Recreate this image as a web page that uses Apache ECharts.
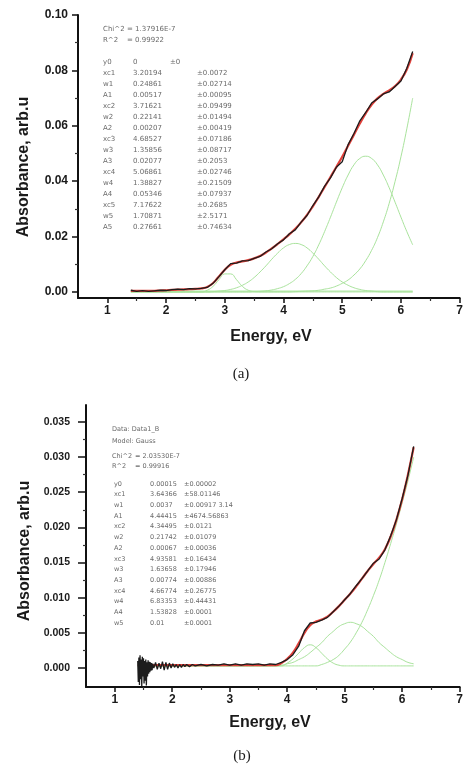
<!DOCTYPE html>
<html>
<head>
<meta charset="utf-8">
<script src="https://cdn.jsdelivr.net/npm/echarts@6/dist/echarts.min.js"></script>
<style>
  html, body { margin: 0; padding: 0; background: #fff; }
  #main { width: 466px; height: 768px; }
</style>
</head>
<body>
<div id="main"></div>
<script>
// shared energy grid for fits and peak components (eV)
const energyFit = [1.4, 1.5, 1.6, 1.7, 1.8, 1.9, 2.0, 2.1, 2.2, 2.3, 2.4, 2.5, 2.6, 2.7, 2.8, 2.9, 3.0,
  3.1, 3.2, 3.3, 3.4, 3.5, 3.6, 3.7, 3.8, 3.9, 4.0, 4.1, 4.2, 4.3, 4.4, 4.5, 4.6, 4.7, 4.8, 4.9,
  5.0, 5.1, 5.2, 5.3, 5.4, 5.5, 5.6, 5.7, 5.8, 5.9, 6.0, 6.1, 6.2];

// ---- panel (a) ----
const absA = [0.0006, 0.0002, 0.0005, 0.0002, 0.0004, 0.0006, 0.0005, 0.0008, 0.0010, 0.0008, 0.0012,
  0.0011, 0.0013, 0.0016, 0.0031, 0.0055, 0.0080, 0.0102, 0.0104, 0.0112, 0.0113, 0.0121, 0.0128,
  0.0144, 0.0156, 0.0174, 0.0188, 0.0210, 0.0224, 0.0252, 0.0276, 0.0312, 0.0343, 0.0382, 0.0412,
  0.0450, 0.0470, 0.0532, 0.0572, 0.0618, 0.0648, 0.0682, 0.0697, 0.0715, 0.0722, 0.0742, 0.0762,
  0.0808, 0.0868];
const fitA = [0.0004, 0.0004, 0.0004, 0.0004, 0.0004, 0.0005, 0.0006, 0.0007, 0.0008, 0.0009, 0.0010,
  0.0011, 0.0013, 0.0018, 0.0032, 0.0056, 0.0080, 0.0098, 0.0106, 0.0110, 0.0115, 0.0121, 0.0130,
  0.0142, 0.0157, 0.0173, 0.0190, 0.0208, 0.0228, 0.0251, 0.0278, 0.0309, 0.0343, 0.0379, 0.0415,
  0.0451, 0.0488, 0.0528, 0.0568, 0.0608, 0.0645, 0.0676, 0.0699, 0.0715, 0.0728, 0.0743, 0.0767,
  0.0803, 0.0862];
const peak1A = [0, 0, 0, 0, 0, 0, 0, 0, 0, 0, 0, 0, 0,
  0.0006, 0.0020, 0.0044, 0.0065, 0.0065, 0.0044, 0.0020, 0.0006, 0.0001,
  0, 0, 0, 0, 0, 0, 0, 0, 0, 0, 0, 0, 0, 0, 0, 0, 0, 0, 0, 0, 0, 0, 0, 0, 0, 0, 0];
const peak2A = [0, 0, 0, 0, 0, 0, 0, 0, 0, 0, 0, 0, 0, 0,
  0.0001, 0.0003, 0.0005, 0.0009, 0.0015, 0.0024, 0.0036, 0.0052, 0.0072, 0.0094, 0.0118, 0.0140,
  0.0159, 0.0171, 0.0175, 0.0171, 0.0159, 0.0140, 0.0118, 0.0094, 0.0072, 0.0052, 0.0036, 0.0024,
  0.0015, 0.0009, 0.0005, 0.0003, 0.0001, 0, 0, 0, 0, 0, 0];
const peak3A = [0, 0, 0, 0, 0, 0, 0, 0, 0, 0, 0, 0, 0, 0, 0, 0, 0, 0, 0, 0, 0,
  0.0001, 0.0002, 0.0004, 0.0007, 0.0012, 0.0019, 0.0030, 0.0045, 0.0066, 0.0094, 0.0128, 0.0170,
  0.0218, 0.0270, 0.0324, 0.0376, 0.0422, 0.0459, 0.0482, 0.0490, 0.0482, 0.0459, 0.0422, 0.0376,
  0.0324, 0.0270, 0.0218, 0.0170];
const peak4A = [0, 0, 0, 0, 0, 0, 0, 0, 0, 0, 0, 0, 0, 0, 0, 0, 0, 0, 0, 0, 0, 0, 0, 0, 0, 0, 0, 0,
  0.0001, 0.0002, 0.0003, 0.0004, 0.0006, 0.0010, 0.0014, 0.0021, 0.0031, 0.0043, 0.0061, 0.0083,
  0.0113, 0.0150, 0.0196, 0.0253, 0.0320, 0.0399, 0.0488, 0.0589, 0.0700];
const baseEnergy = [1.4, 6.2];
const baseA = [0.0003, 0.0003];

// ---- panel (b) ----
const energyB = [1.40, 1.41, 1.42, 1.43, 1.44, 1.45, 1.46, 1.47, 1.48, 1.49, 1.50, 1.51, 1.52, 1.53,
  1.54, 1.55, 1.56, 1.57, 1.58, 1.59, 1.60, 1.61, 1.62, 1.63, 1.64, 1.65, 1.66,
  1.68, 1.71, 1.74, 1.77, 1.80, 1.83, 1.86, 1.89, 1.92, 1.95, 1.98, 2.01, 2.04, 2.07, 2.10, 2.13,
  2.16, 2.19, 2.22, 2.25, 2.30, 2.35, 2.40,
  2.5, 2.6, 2.7, 2.8, 2.9, 3.0, 3.1, 3.2, 3.3, 3.4, 3.5, 3.6, 3.7, 3.8, 3.9, 4.0, 4.1, 4.2, 4.3,
  4.4, 4.5, 4.6, 4.7, 4.8, 4.9, 5.0, 5.1, 5.2, 5.3, 5.4, 5.5, 5.6, 5.7, 5.8, 5.9, 6.0, 6.1, 6.2];
const absB = [0.0010, -0.0020, 0.0015, -0.0024, 0.0018, -0.0016, 0.0012, -0.0026, 0.0016, -0.0012,
  0.0014, -0.0022, 0.0010, -0.0018, 0.0012, -0.0025, 0.0008, -0.0012, 0.0011, -0.0008, 0.0009,
  -0.0006, 0.0008, -0.0004, 0.0007, -0.0003, 0.0006,
  0.0000, 0.0008, -0.0002, 0.0007, -0.0001, 0.0009, -0.0003, 0.0008, -0.0002, 0.0007, 0.0000,
  0.0006, 0.0001, 0.0005, 0.0000, 0.0005, 0.0001, 0.0005, 0.0002, 0.0005, 0.0002, 0.0005, 0.0003,
  0.0005, 0.0003, 0.0005, 0.0004, 0.0006, 0.0004, 0.0006, 0.0004, 0.0006, 0.0005, 0.0006, 0.0004,
  0.0006, 0.0005, 0.0008, 0.0012, 0.0019, 0.0031, 0.0053, 0.0064, 0.0065, 0.0068, 0.0072, 0.0080,
  0.0088, 0.0097, 0.0106, 0.0117, 0.0127, 0.0138, 0.0149, 0.0155, 0.0168, 0.0188, 0.0211, 0.0241,
  0.0274, 0.0315];
const fitB = [0.0004, 0.0004, 0.0004, 0.0004, 0.0004, 0.0004, 0.0004, 0.0004, 0.0004, 0.0004, 0.0004,
  0.0004, 0.0004, 0.0004, 0.0004, 0.0004, 0.0004, 0.0004, 0.0004, 0.0004, 0.0004, 0.0004, 0.0004,
  0.0004, 0.0004, 0.0007, 0.0013, 0.0022, 0.0035, 0.0050, 0.0061, 0.0066, 0.0069, 0.0073, 0.0080,
  0.0088, 0.0097, 0.0106, 0.0116, 0.0127, 0.0138, 0.0148, 0.0157, 0.0169, 0.0187, 0.0211, 0.0240,
  0.0275, 0.0314];
const peak1B = [0.0003, 0.0003, 0.0003, 0.0003, 0.0003, 0.0003, 0.0003, 0.0003, 0.0003, 0.0003,
  0.0003, 0.0003, 0.0003, 0.0003, 0.0003, 0.0003, 0.0003, 0.0003, 0.0003, 0.0003, 0.0003, 0.0003,
  0.0003, 0.0003, 0.0003, 0.0003,
  0.0007, 0.0013, 0.0021, 0.0029, 0.0033, 0.0029, 0.0021, 0.0013, 0.0007, 0.0004,
  0.0003, 0.0003, 0.0003, 0.0003, 0.0003, 0.0003, 0.0003, 0.0003, 0.0003, 0.0003, 0.0003, 0.0003, 0.0003];
const peak2B = [0.0003, 0.0003, 0.0003, 0.0003, 0.0003, 0.0003, 0.0003, 0.0003, 0.0003, 0.0003,
  0.0003, 0.0003, 0.0003, 0.0003, 0.0003, 0.0003, 0.0003, 0.0003, 0.0003, 0.0003, 0.0003, 0.0003,
  0.0003, 0.0003, 0.0003,
  0.0004, 0.0006, 0.0008, 0.0012, 0.0016, 0.0022, 0.0029, 0.0036, 0.0045, 0.0052, 0.0059, 0.0063,
  0.0065, 0.0063, 0.0059, 0.0052, 0.0045, 0.0036, 0.0029, 0.0022, 0.0016, 0.0012, 0.0008, 0.0006];
const peak3B = [0.0003, 0.0003, 0.0003, 0.0003, 0.0003, 0.0003, 0.0003, 0.0003, 0.0003, 0.0003,
  0.0003, 0.0003, 0.0003, 0.0003, 0.0003, 0.0003, 0.0003, 0.0003, 0.0003, 0.0003, 0.0003, 0.0003,
  0.0003, 0.0003, 0.0003, 0.0003, 0.0003, 0.0003, 0.0003, 0.0003, 0.0003, 0.0003,
  0.0005, 0.0008, 0.0012, 0.0018, 0.0027, 0.0037, 0.0050, 0.0065, 0.0083, 0.0103, 0.0125, 0.0150,
  0.0177, 0.0205, 0.0235, 0.0266, 0.0300];

// ---- ticks ----
const xTicks = [1, 2, 3, 4, 5, 6, 7];
const xMinor = [1.5, 2.5, 3.5, 4.5, 5.5, 6.5];
const yTicksA = [0, 0.02, 0.04, 0.06, 0.08, 0.10];
const yMinorA = [0.01, 0.03, 0.05, 0.07, 0.09];
const yTicksB = [0, 0.005, 0.010, 0.015, 0.020, 0.025, 0.030, 0.035];
const yMinorB = [0.0025, 0.0075, 0.0125, 0.0175, 0.0225, 0.0275, 0.0325];

// ---- fit report text ----
const statsA = [['Chi^2', '= 1.37916E-7'], ['R^2', '= 0.99922']];
const headA = ['y0', '0', '±0'];
const namesA = ['xc1', 'w1', 'A1', 'xc2', 'w2', 'A2', 'xc3', 'w3', 'A3', 'xc4', 'w4', 'A4', 'xc5', 'w5', 'A5'];
const valsA = ['3.20194', '0.24861', '0.00517', '3.71621', '0.22141', '0.00207', '4.68527', '1.35856',
  '0.02077', '5.06861', '1.38827', '0.05346', '7.17622', '1.70871', '0.27661'];
const errsA = ['±0.0072', '±0.02714', '±0.00095', '±0.09499', '±0.01494', '±0.00419', '±0.07186',
  '±0.08717', '±0.2053', '±0.02746', '±0.21509', '±0.07937', '±0.2685', '±2.5171', '±0.74634'];

const infoB = ['Data: Data1_B', 'Model: Gauss'];
const statsB = [['Chi^2', '= 2.03530E-7'], ['R^2', '= 0.99916']];
const namesB = ['y0', 'xc1', 'w1', 'A1', 'xc2', 'w2', 'A2', 'xc3', 'w3', 'A3', 'xc4', 'w4', 'A4', 'w5'];
const valsB = ['0.00015', '3.64366', '0.0037', '4.44415', '4.34495', '0.21742', '0.00067', '4.93581',
  '1.63658', '0.00774', '4.66774', '6.83353', '1.53828', '0.01'];
const errsB = ['±0.00002', '±58.01146', '±0.00917 3.14', '±4674.56863', '±0.0121', '±0.01079',
  '±0.00036', '±0.16434', '±0.17946', '±0.00886', '±0.26775', '±0.44431', '±0.0001', '±0.0001'];

const pts = (xs, ys) => xs.map((x, i) => [x, ys[i]]);

const chart = echarts.init(document.getElementById('main'), null, { renderer: 'canvas' });

const labelFont = { fontFamily: 'Liberation Sans', fontWeight: 'bold', color: '#1a1a1a' };

function mainX(gi) {
  return {
    type: 'value', gridIndex: gi, min: 0.5, max: 7, position: 'bottom',
    axisLine: { show: true, onZero: false, lineStyle: { color: '#111', width: 2 } },
    axisTick: { show: true, customValues: xTicks, length: 5, lineStyle: { color: '#111', width: 1.5 } },
    axisLabel: Object.assign({ customValues: xTicks, fontSize: 12, margin: 7 }, labelFont),
    splitLine: { show: false }
  };
}
function minorX(gi) {
  return {
    type: 'value', gridIndex: gi, min: 0.5, max: 7, position: 'bottom',
    axisLine: { show: false, onZero: false },
    axisTick: { show: true, customValues: xMinor, length: 3, lineStyle: { color: '#333', width: 1.2 } },
    axisLabel: { show: false }, splitLine: { show: false }
  };
}
function mainY(gi, min, max, ticks, digits, size, margin, tickLen) {
  return {
    type: 'value', gridIndex: gi, min: min, max: max, position: 'left',
    axisLine: { show: true, onZero: false, lineStyle: { color: '#111', width: 2 } },
    axisTick: { show: true, customValues: ticks, length: tickLen, lineStyle: { color: '#111', width: 1.5 } },
    axisLabel: Object.assign({ customValues: ticks, fontSize: size, margin: margin,
      formatter: v => v.toFixed(digits) }, labelFont),
    splitLine: { show: false }
  };
}
function minorY(gi, min, max, ticks) {
  return {
    type: 'value', gridIndex: gi, min: min, max: max, position: 'left',
    axisLine: { show: false, onZero: false },
    axisTick: { show: true, customValues: ticks, length: 3, lineStyle: { color: '#333', width: 1.2 } },
    axisLabel: { show: false }, splitLine: { show: false }
  };
}

function line(xs, ys, gi, color, width, smooth, z) {
  return {
    type: 'line', xAxisIndex: gi * 2, yAxisIndex: gi * 2, data: pts(xs, ys),
    symbol: 'none', smooth: smooth, silent: true, z: z,
    lineStyle: { color: color, width: width }
  };
}

const green = '#a9e39c';
const series = [
  line(baseEnergy, baseA, 0, green, 1, false, 2),
  line(energyFit, peak1A, 0, green, 1, true, 2),
  line(energyFit, peak2A, 0, green, 1, true, 2),
  line(energyFit, peak3A, 0, green, 1, true, 2),
  line(energyFit, peak4A, 0, green, 1, true, 2),
  line(energyFit, fitA, 0, '#e0403a', 2.2, true, 3),
  line(energyFit, absA, 0, '#1c1c1c', 1.3, false, 4),
  line(energyFit, peak1B, 1, green, 1, true, 2),
  line(energyFit, peak2B, 1, green, 1, true, 2),
  line(energyFit, peak3B, 1, green, 1, true, 2),
  line(energyFit, fitB, 1, '#e0403a', 2.2, true, 3),
  line(energyB, absB, 1, '#1c1c1c', 1.3, false, 4)
];

// text helpers
const small = (x, y, s, size) => ({
  type: 'text', x: x, y: y, silent: true,
  style: { text: s, font: size + 'px "DejaVu Sans"', fill: '#6a6a6a', verticalAlign: 'middle', textVerticalAlign: 'middle' }
});
const title = (x, y, s, rot, font) => ({
  type: 'text', x: x, y: y, rotation: rot, silent: true,
  style: { text: s, font: font, fill: '#1a1a1a', align: 'center', textAlign: 'center',
    verticalAlign: 'middle', textVerticalAlign: 'middle' }
});

const graphics = [
  title(24, 167, 'Absorbance, arb.u', Math.PI / 2, 'bold 16px "Liberation Sans"'),
  title(271, 337, 'Energy, eV', 0, 'bold 16px "Liberation Sans"'),
  title(241, 374, '(a)', 0, '15px "Liberation Serif"'),
  title(25, 551, 'Absorbance, arb.u', Math.PI / 2, 'bold 16px "Liberation Sans"'),
  title(270, 723, 'Energy, eV', 0, 'bold 16px "Liberation Sans"'),
  title(242, 756, '(b)', 0, '15px "Liberation Serif"')
];

statsA.forEach((r, i) => {
  graphics.push(small(103, 29 + i * 11, r[0], 7));
  graphics.push(small(127, 29 + i * 11, r[1], 7));
});
graphics.push(small(103, 62, headA[0], 7), small(133, 62, headA[1], 7), small(170, 62, headA[2], 7));
namesA.forEach((n, i) => {
  const y = 73 + i * 11;
  graphics.push(small(103, y, n, 7), small(133, y, valsA[i], 7), small(197, y, errsA[i], 7));
});

infoB.forEach((s, i) => graphics.push(small(112, 429 + i * 12, s, 6.5)));
statsB.forEach((r, i) => {
  graphics.push(small(112, 456 + i * 10.5, r[0], 6.5));
  graphics.push(small(135, 456 + i * 10.5, r[1], 6.5));
});
namesB.forEach((n, i) => {
  const y = 484 + i * 10.7;
  graphics.push(small(114, y, n, 6.5), small(150, y, valsB[i], 6.5), small(184, y, errsB[i], 6.5));
});

chart.setOption({
  animation: false,
  backgroundColor: '#fff',
  grid: [
    { left: 78, top: 15, width: 385, height: 283 },
    { left: 86, top: 405, width: 377, height: 282 }
  ],
  xAxis: [mainX(0), minorX(0), mainX(1), minorX(1)],
  yAxis: [
    mainY(0, -0.0022, 0.1, yTicksA, 2, 12, 10, 6),
    minorY(0, -0.0022, 0.1, yMinorA),
    mainY(1, -0.0027, 0.0374, yTicksB, 3, 10.5, 16, 8),
    minorY(1, -0.0027, 0.0374, yMinorB)
  ],
  series: series,
  graphic: { elements: graphics }
});
</script>
</body>
</html>
